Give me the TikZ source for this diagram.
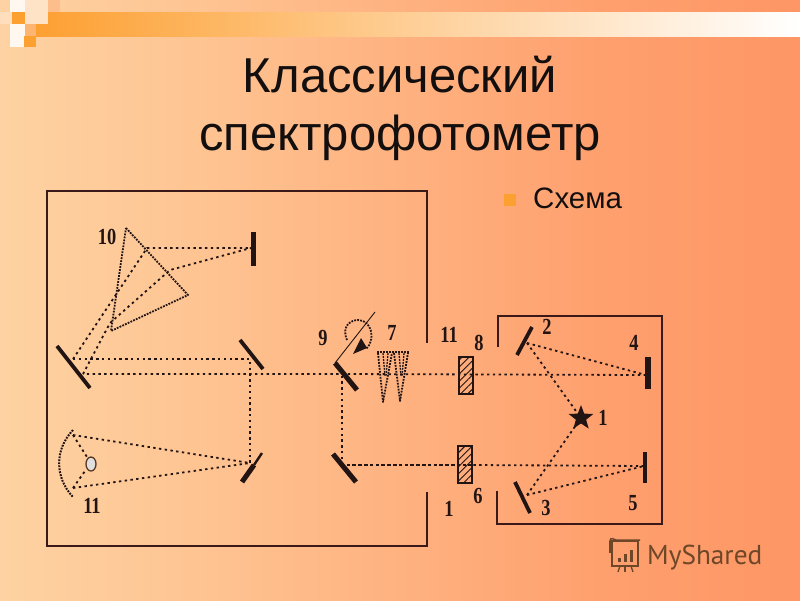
\documentclass[tikz,border=0pt]{standalone}
\usepackage{fontspec}
\setmainfont{Liberation Sans}
\newfontfamily\labelfont{Liberation Serif}
\newfontfamily\markfont{PT Sans}
\usetikzlibrary{patterns.meta,shapes.geometric}

\pgfdeclarehorizontalshading{slideshade}{100bp}{rgb(0bp)=(.996,.824,.635); rgb(25bp)=(.996,.824,.635); rgb(37.5bp)=(.996,.769,.573); rgb(50bp)=(.996,.698,.502); rgb(62.5bp)=(.996,.627,.431); rgb(75bp)=(.996,.588,.396); rgb(100bp)=(.996,.588,.396)}

\tikzset{
  framing/.style={draw=frameColor,line width=2.1pt,line join=miter},
  beam/.style={draw=beamColor,line width=1.8pt,dash pattern=on 2.4pt off 3.4pt},
  heavybeam/.style={draw=beamColor,line width=2.2pt,dash pattern=on 3.6pt off 2.2pt},
  mirror/.style={draw=beamColor,line width=5pt},
  thinmirror/.style={draw=beamColor,line width=3.8pt},
  outline/.style={draw=beamColor,line width=1.8pt,dash pattern=on 1.8pt off 1.2pt,line join=round},
  numlabel/.style={text=beamColor,inner sep=0pt,outer sep=0pt,xscale=0.8,font=\labelfont\bfseries\fontsize{23}{23}\selectfont},
  headline/.style={text=titleColor,inner sep=0pt,outer sep=0pt,anchor=base,font=\fontsize{49}{49}\selectfont},
  cell/.style={draw=beamColor,line width=1.6pt,pattern={Lines[angle=45,distance=5pt,line width=0.9pt]},pattern color=beamColor}
}

\begin{document}
\begin{tikzpicture}[x=1pt,y=-1pt]
\definecolor{bgLeft}{RGB}{253,208,160}
\definecolor{bgMid}{RGB}{254,190,140}
\definecolor{stripColor}{RGB}{253,160,50}
\definecolor{stripMid}{RGB}{253,205,170}
\definecolor{frameColor}{RGB}{60,25,25}
\definecolor{beamColor}{RGB}{35,20,20}
\definecolor{titleColor}{RGB}{20,15,15}
\definecolor{markColor}{RGB}{110,70,40}
\useasboundingbox (0,0) rectangle (800,600);

% background and top strip
\shade[shading=slideshade] (0,0) rectangle (800,600);
\shade[left color=stripColor,middle color=stripMid,right color=white] (36,12) rectangle (800,36);
\fill[bgLeft!60!white] (25,0) rectangle (48,24);
\fill[bgMid] (48,0) rectangle (60,12);
\fill[white!85!bgLeft] (10,0) rectangle (25,12);
\fill[white!85!bgLeft] (10,24) rectangle (25,47);
\fill[bgLeft!70!white] (0,12) rectangle (12,24);
\fill[stripColor] (12,12) rectangle (25,24);
\fill[bgMid!70!stripColor] (25,24) rectangle (36,36);
\fill[stripColor] (24,36) rectangle (36,47);

% heading
\node[headline] (title1) at (400,92) {Классический};
\node[headline] (title2) at (400,150) {спектрофотометр};
\fill[stripColor] (504,194) rectangle (516,206);
\node[text=titleColor,anchor=base west,inner sep=0pt,font=\fontsize{29.5}{29.5}\selectfont] (scheme) at (533,208) {Схема};

% housing
\draw[framing] (427,343) -- (427,191) -- (47,191) -- (47,546) -- (427,546) -- (427,492);
\draw[framing] (498,347) -- (498,316) -- (662,316) -- (662,524) -- (497,524) -- (497,491);

% beam points
\coordinate (m2) at (527,343);
\coordinate (m3) at (527,495);
\coordinate (m4) at (646,375);
\coordinate (m5) at (644,466);
\coordinate (starpt) at (581,418);
\coordinate (m9) at (342,374);
\coordinate (m9b) at (342,465);
\coordinate (cellB) at (472,465);
\coordinate (turnA) at (250,359);
\coordinate (turnB) at (250,463);
\coordinate (farA) at (73,359);
\coordinate (farB) at (83,374);
\coordinate (slit) at (251,248);
\coordinate (prismA) at (147,248);
\coordinate (prismB) at (110,323);
\coordinate (prismC) at (170,270);
\coordinate (arcTop) at (73,435);
\coordinate (arcLow) at (73,488);
\coordinate (lampTop) at (87,457);
\coordinate (lampLow) at (85,471);

% beams
\draw[beam] (m2) -- (m4);
\draw[beam] (m2) -- (starpt);
\draw[beam] (m3) -- (starpt);
\draw[beam] (m3) -- (m5);
\draw[beam] (m4) -- (m9) -- (farB);
\draw[beam] (m5) -- (cellB);
\draw[heavybeam] (cellB) -- (m9b);
\draw[beam] (m9b) -- (m9);
\draw[beam] (farA) -- (turnA) -- (turnB);
\draw[beam] (farA) -- (prismA) -- (slit);
\draw[beam] (farB) -- (prismB) -- (prismC) -- (slit);
\draw[beam] (arcTop) -- (turnB);
\draw[beam] (arcLow) -- (turnB);
\draw[beam] (arcTop) -- (lampTop);
\draw[beam] (arcLow) -- (lampLow);

% prism, slit and left mirrors
\draw[outline] (126,228) -- (188,295) -- (111,331) -- cycle;
\draw[mirror] (253,232) -- (253,266);
\draw[thinmirror] (57,346) -- (90,388);
\draw[thinmirror] (240,340) -- (263,369);
\draw[draw=beamColor,line width=2.4pt] (262,453) -- (254,465);
\draw[mirror] (254,465) -- (242,482);

% lamp and its reflector
\draw[outline,line width=2pt] (73,430) .. controls (54,450) and (55,478) .. (73,497);
\draw[draw=markColor!70!beamColor,line width=1.3pt,fill=gray!25] (91,464) ellipse (5 and 7);

% right side mirrors
\draw[mirror] (335,363) -- (357,390);
\draw[mirror] (333,454) -- (356,482);
\draw[thinmirror] (532,327) -- (517,355);
\draw[thinmirror] (515,482) -- (530,513);
\draw[draw=beamColor,line width=5.5pt] (648,357) -- (648,389);
\draw[thinmirror] (645,452) -- (645,483);

% rotating arm on mirror 9
\draw[draw=beamColor,line width=0.9pt] (335,363) -- (375,312);
\draw[outline] (347,340) .. controls (341,326) and (351,320) .. (358,320) .. controls (372,320) and (376,340) .. (366,349);
\fill[beamColor] (353,354) -- (361,338) -- (367,348) -- cycle;

% chopper
\draw[outline] (377,352) -- (409,352);
\draw[outline] (378,353) -- (383,402) -- (392,353);
\draw[outline] (394,353) -- (400,401) -- (408,353);
\draw[outline,line width=1.3pt] (383,353) -- (385,376);
\draw[outline,line width=1.3pt] (388,353) -- (386,376);
\draw[outline,line width=1.3pt] (399,353) -- (401,376);
\draw[outline,line width=1.3pt] (404,353) -- (402,376);

% cells
\draw[cell] (459,357) rectangle (473,394);
\draw[cell] (458,446) rectangle (472,483);

% source
\node[star,star points=5,star point ratio=2.4,fill=beamColor,inner sep=0pt,minimum size=26pt] (source) at (starpt) {};

% numbers
\node[numlabel] (num10) at (107,237) {10};
\node[numlabel] (num11a) at (92,506) {11};
\node[numlabel] (num9) at (323,338) {9};
\node[numlabel] (num7) at (392,333) {7};
\node[numlabel] (num11b) at (449,335) {11};
\node[numlabel] (num8) at (479,343) {8};
\node[numlabel] (num2) at (547,327) {2};
\node[numlabel] (num4) at (634,343) {4};
\node[numlabel] (num1a) at (603,418) {1};
\node[numlabel] (num1b) at (449,509) {1};
\node[numlabel] (num6) at (478,496) {6};
\node[numlabel] (num3) at (546,508) {3};
\node[numlabel] (num5) at (633,503) {5};

% watermark
\node[text=markColor,anchor=base west,inner sep=0pt,font=\markfont\fontsize{27.3}{27.3}\selectfont] (mark) at (647,564) {MyShared};
\draw[draw=markColor,line width=1.5pt] (612,541) rectangle (638,566);
\draw[draw=markColor,line width=1.5pt] (610,541) .. controls (610,537) and (614,539) .. (616,540) -- (640,540);
\draw[draw=markColor,line width=1.5pt] (610,541) -- (610,553);
\fill[markColor] (618,558) rectangle (621,562);
\fill[markColor] (624,554) rectangle (627,562);
\fill[markColor] (630,550) rectangle (633,562);
\draw[draw=markColor,line width=1.3pt] (620,566) -- (618,572);
\draw[draw=markColor,line width=1.3pt] (625,566) -- (625,572);
\draw[draw=markColor,line width=1.3pt] (631,566) -- (633,572);
\end{tikzpicture}
\end{document}
